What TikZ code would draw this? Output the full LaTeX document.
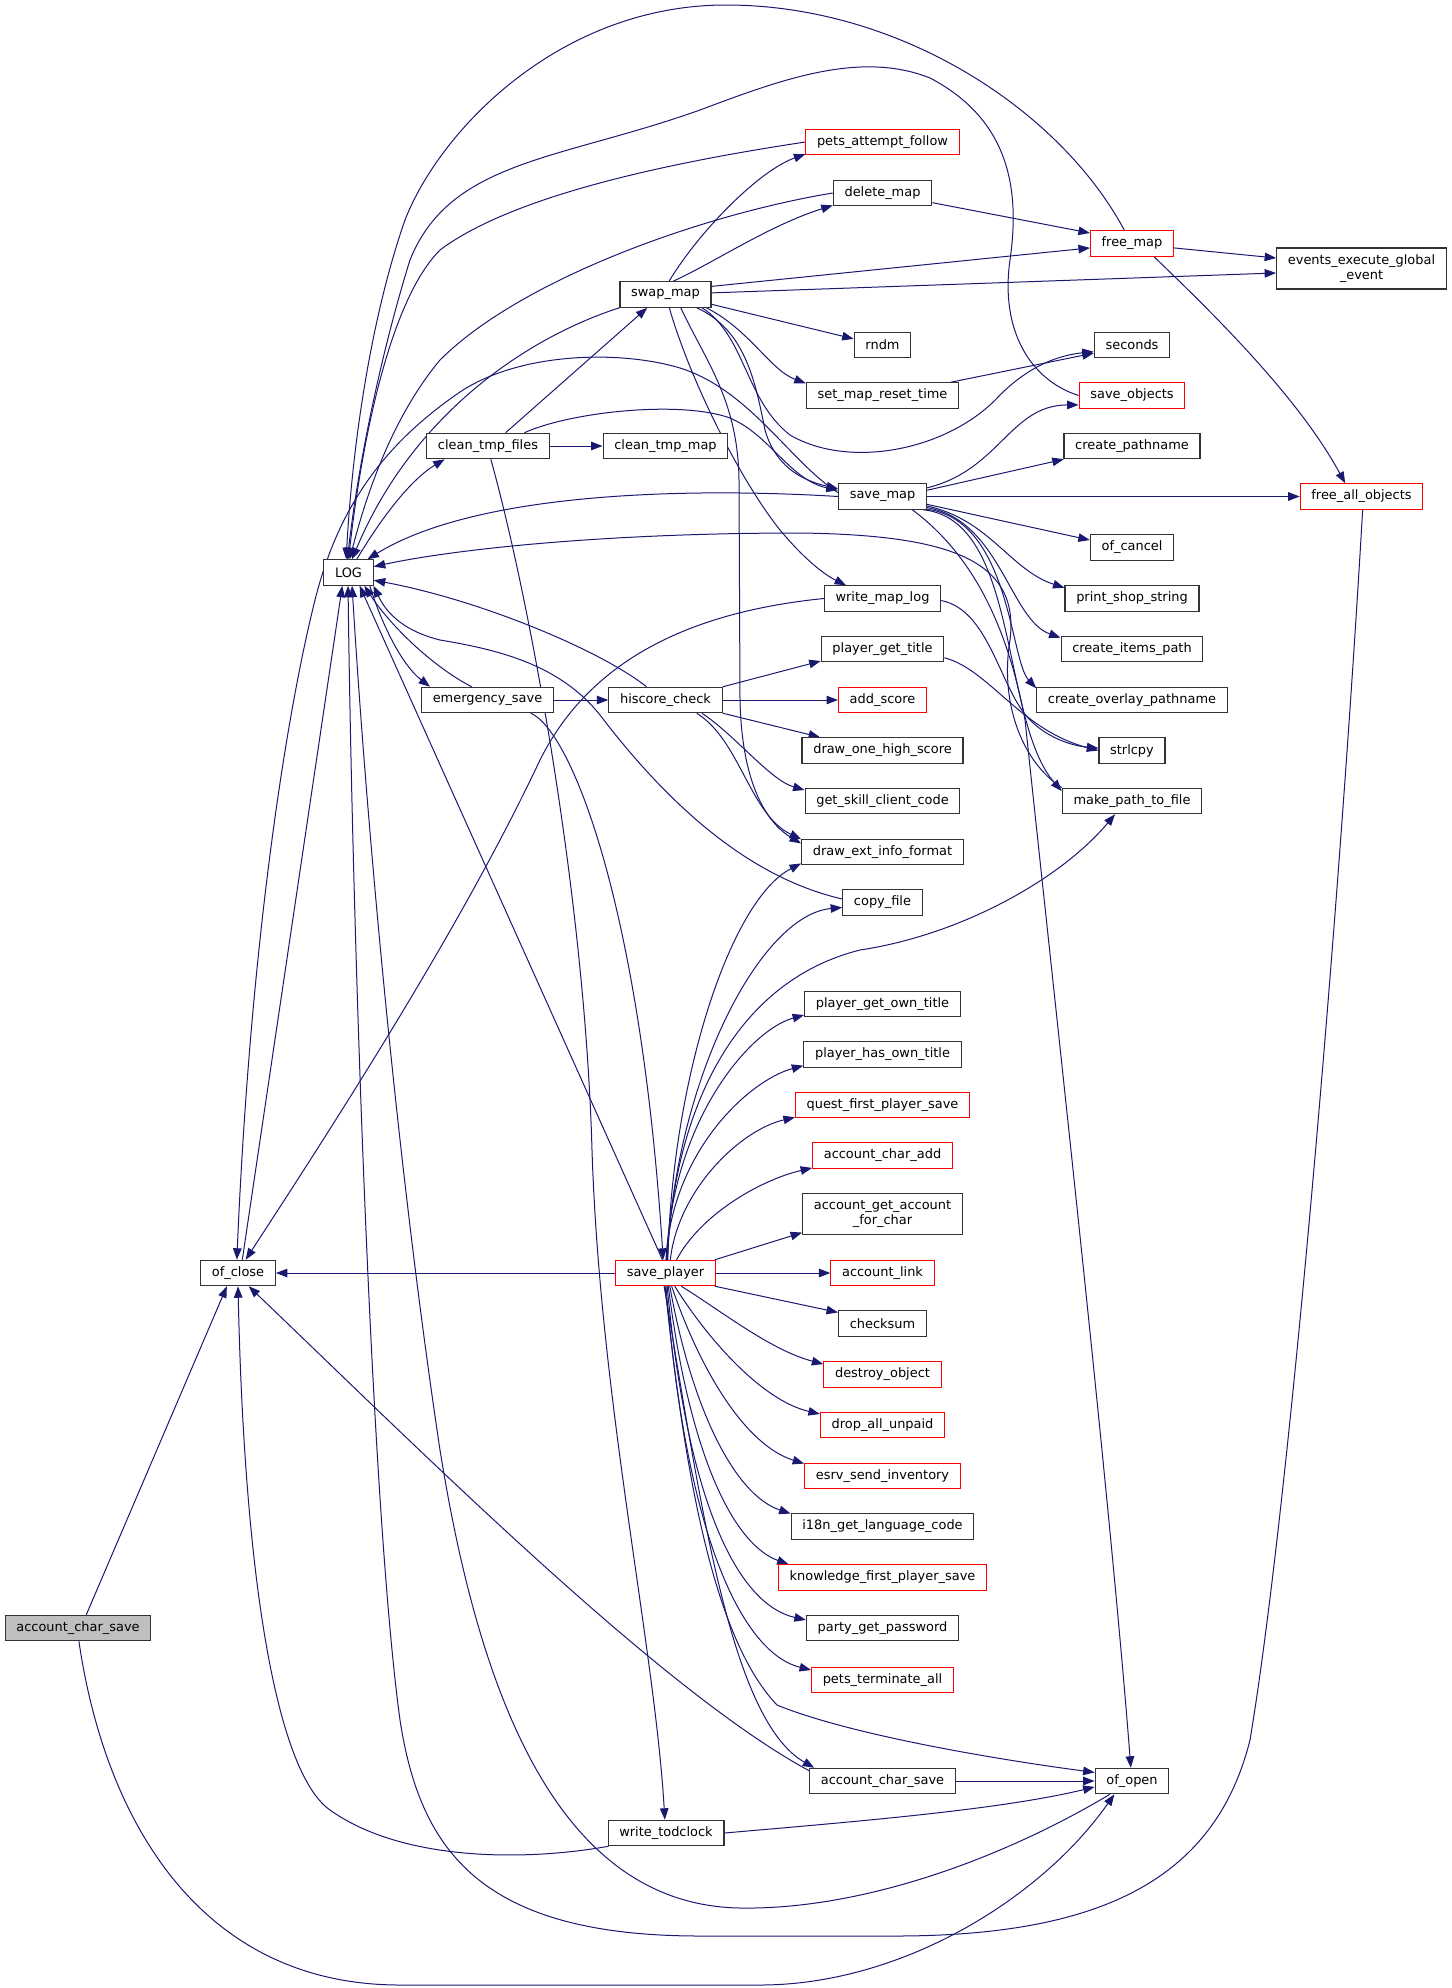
\documentclass[tikz,border=0pt]{standalone}
\usepackage{fontspec}
\setmainfont{DejaVu Sans}
\usetikzlibrary{arrows.meta}
\definecolor{edgeblue}{HTML}{191970}
\definecolor{rootgray}{HTML}{BFBFBF}
\pgfdeclarelayer{background}
\pgfsetlayers{background,main}
\begin{document}
\begin{tikzpicture}[x=0.75pt,y=-0.75pt,
  fn/.style={draw=black!80, line width=0.9pt, fill=white, inner xsep=8.4pt, inner ysep=0pt,
             minimum height=19pt, font=\fontsize{9.7pt}{11.25pt}\selectfont, text=black},
  fnred/.style={fn, draw=red, line width=0.8pt},
  fnroot/.style={fn, fill=rootgray},
  fntwo/.style={fn, align=center, minimum height=30.75pt},
  conn/.style={draw=edgeblue, line width=0.75pt, -{Triangle[length=8.6pt,width=6.4pt]}},
]
\useasboundingbox (0,0) rectangle (1452,1988);

% ---------- nodes ----------
\node[fnroot] (root) at (78,1628) {account\_char\_save};
\node[fn] (ocs) at (238,1273) {of\_close};
\node[fn] (lg) at (348.5,572.5) {LOG};
\node[fn] (ctf) at (488,446) {clean\_tmp\_files};
\node[fn] (ems) at (487.5,700) {emergency\_save};
\node[fn] (swm) at (665.5,294.5) {swap\_map};
\node[fn] (ctm) at (665.5,446) {clean\_tmp\_map};
\node[fn] (hsc) at (665.5,700) {hiscore\_check};
\node[fnred] (spl) at (665.5,1273) {save\_player};
\node[fn] (wtc) at (666,1833) {write\_todclock};

\node[fnred] (paf) at (882.5,142) {pets\_attempt\_follow};
\node[fn] (dlm) at (882.5,193) {delete\_map};
\node[fn] (rnd) at (882.5,345) {rndm};
\node[fn] (smr) at (882.5,395.5) {set\_map\_reset\_time};
\node[fn] (svm) at (882.5,496.5) {save\_map};
\node[fn] (wml) at (882.5,598.5) {write\_map\_log};
\node[fn] (pgt) at (882.5,649) {player\_get\_title};
\node[fnred] (ads) at (882.5,700) {add\_score};
\node[fn] (dhs) at (882.5,750.5) {draw\_one\_high\_score};
\node[fn] (gsc) at (882.5,801) {get\_skill\_client\_code};
\node[fn] (dei) at (882.5,852) {draw\_ext\_info\_format};
\node[fn] (cpf) at (882.5,902.5) {copy\_file};
\node[fn] (pgo) at (882.5,1004) {player\_get\_own\_title};
\node[fn] (pho) at (882.5,1054.5) {player\_has\_own\_title};
\node[fnred] (qfp) at (882.5,1105) {quest\_first\_player\_save};
\node[fnred] (aca) at (882.5,1155.5) {account\_char\_add};
\node[fntwo] (aga) at (882.5,1214) {account\_get\_account\\\_for\_char};
\node[fnred] (alk) at (882.5,1273) {account\_link};
\node[fn] (cks) at (882.5,1323.5) {checksum};
\node[fnred] (dob) at (882.5,1374.5) {destroy\_object};
\node[fnred] (dau) at (882.5,1425) {drop\_all\_unpaid};
\node[fnred] (esi) at (882.5,1476) {esrv\_send\_inventory};
\node[fn] (i18) at (882.5,1526.5) {i18n\_get\_language\_code};
\node[fnred] (kfp) at (882.5,1577.5) {knowledge\_first\_player\_save};
\node[fn] (pgp) at (882.5,1628) {party\_get\_password};
\node[fnred] (pta) at (882.5,1680) {pets\_terminate\_all};
\node[fn] (acs) at (882.5,1781) {account\_char\_save};

\node[fnred] (frm) at (1132,243.5) {free\_map};
\node[fn] (sec) at (1132,345) {seconds};
\node[fnred] (sob) at (1132,395.5) {save\_objects};
\node[fn] (cpn) at (1132,446) {create\_pathname};
\node[fn] (ocl) at (1132,547.5) {of\_cancel};
\node[fn] (pss) at (1132,598.5) {print\_shop\_string};
\node[fn] (cip) at (1132,649) {create\_items\_path};
\node[fn] (cop) at (1132,700) {create\_overlay\_pathname};
\node[fn] (slc) at (1132,750.5) {strlcpy};
\node[fn] (mpf) at (1132,801) {make\_path\_to\_file};
\node[fn] (oop) at (1132,1781) {of\_open};

\node[fntwo] (eeg) at (1361.5,268.5) {events\_execute\_global\\\_event};
\node[fnred] (fao) at (1361.5,496.5) {free\_all\_objects};

% ---------- connectors ----------
\begin{pgfonlayer}{background}
% root
\draw[conn] (root.58) -- (ocs.230);
\draw[conn] (root.-86) .. controls (105,1820) and (200,1985) .. (400,1985) -- (760,1985) .. controls (900,1985) and (1040,1900) .. (oop.-143);

% into of_close
\draw[conn] (wtc.193) .. controls (520,1862) and (400,1860) .. (330,1810) .. controls (280,1775) and (245,1600) .. (ocs.-90);
\draw[conn] (acs.172) .. controls (660,1690) and (420,1450) .. (ocs.-51);
\draw[conn] (spl.west) -- (ocs.east);
\draw[conn] (wml.west) .. controls (690,612) and (590,660) .. (540,760) .. controls (460,930) and (330,1130) .. (ocs.60);
\draw[conn] (svm.175) .. controls (790,462) and (750,390) .. (680,368) .. controls (620,350) and (520,352) .. (460,392) .. controls (390,440) and (340,500) .. (315,600) .. controls (285,720) and (250,950) .. (ocs.95);

% into LOG
\draw[conn] (ocs.72) -- (lg.-115);
\draw[conn] (fao.-85) .. controls (1340,900) and (1290,1500) .. (1250,1740) .. controls (1215,1880) and (1100,1935) .. (900,1936) -- (700,1936) .. controls (480,1936) and (420,1850) .. (400,1720) .. controls (370,1500) and (352,900) .. (lg.-92);
\draw[conn] (oop.-149) .. controls (1000,1860) and (860,1910) .. (740,1908) .. controls (560,1905) and (480,1700) .. (440,1450) .. controls (395,1150) and (365,800) .. (lg.-75);
\draw[conn] (spl.103) -- (lg.-50);
\draw[conn] (ems.140) .. controls (435,668) and (392,628) .. (lg.-40);
\draw[conn] (cpf.175) .. controls (760,880) and (680,820) .. (600,715) .. controls (560,665) and (500,650) .. (440,640) .. controls (400,630) and (385,610) .. (lg.-28);
\draw[conn] (hsc.145) .. controls (600,650) and (480,600) .. (lg.-17);
\draw[conn] (mpf.north west) .. controls (1020,760) and (1000,700) .. (1010,640) .. controls (1020,560) and (950,535) .. (800,533) .. controls (600,533) and (450,550) .. (lg.13);
\draw[conn] (frm.120) .. controls (1060,110) and (900,5) .. (726,5) .. controls (560,5) and (440,130) .. (405,220) .. controls (370,320) and (352,450) .. (lg.100);
\draw[conn] (sob.west) .. controls (1030,380) and (1000,330) .. (1010,260) .. controls (1020,190) and (1010,120) .. (930,78) .. controls (860,50) and (780,80) .. (700,110) .. controls (560,160) and (450,160) .. (410,260) .. controls (385,340) and (360,450) .. (lg.95);
\draw[conn] (paf.west) .. controls (700,158) and (520,190) .. (440,250) .. controls (390,300) and (362,440) .. (lg.90);
\draw[conn] (dlm.west) .. controls (700,215) and (520,280) .. (440,360) .. controls (390,420) and (365,500) .. (lg.85);
\draw[conn] (swm.south west) .. controls (520,340) and (410,420) .. (lg.75);
\draw[conn] (svm.west) .. controls (700,488) and (480,490) .. (lg.35);

% out of LOG
\draw[conn] (lg.58) .. controls (380,520) and (410,480) .. (ctf.-163);
\draw[conn] (lg.-32) .. controls (382,625) and (402,665) .. (ems.167);

% emergency_save
\draw[conn] (ems.east) -- (hsc.west);
\draw[conn] (ems.-17) .. controls (570,730) and (640,900) .. (spl.100);

% clean_tmp_files
\draw[conn] (ctf.37) -- (swm.-144);
\draw[conn] (ctf.east) -- (ctm.west);
\draw[conn] (ctf.20) .. controls (570,412) and (680,400) .. (730,418) .. controls (770,435) and (790,480) .. (svm.172);
\draw[conn] (ctf.-78) .. controls (530,600) and (585,900) .. (592,1150) .. controls (600,1400) and (655,1650) .. (wtc.95);

% swap_map
\draw[conn] (swm.75) .. controls (700,230) and (760,170) .. (paf.-171);
\draw[conn] (swm.60) .. controls (715,262) and (770,225) .. (dlm.-166);
\draw[conn] (swm.10) -- (frm.186);
\draw[conn] (swm.2) -- (eeg.183);
\draw[conn] (swm.-12) -- (rnd.168);
\draw[conn] (swm.-18) .. controls (750,330) and (770,370) .. (smr.171);
\draw[conn] (swm.-20) .. controls (745,335) and (745,400) .. (790,435) .. controls (850,470) and (950,450) .. (1000,395) .. controls (1030,365) and (1060,355) .. (sec.190);
\draw[conn] (swm.-23) .. controls (745,330) and (755,380) .. (765,430) .. controls (775,465) and (800,480) .. (svm.170);
\draw[conn] (swm.-74) .. controls (690,380) and (740,480) .. (780,530) .. controls (805,560) and (825,575) .. (wml.160);
\draw[conn] (swm.-41) .. controls (705,360) and (738,400) .. (739,480) -- (740,700) .. controls (742,790) and (770,825) .. (dei.174);

% free_map, delete_map, set_map_reset_time
\draw[conn] (frm.-6) -- (eeg.173);
\draw[conn] (dlm.-11) -- (frm.166);
\draw[conn] (smr.11) -- (sec.192);
\draw[conn] (frm.-31) .. controls (1220,320) and (1300,400) .. (fao.141);

% hiscore_check
\draw[conn] (hsc.13) -- (pgt.-169);
\draw[conn] (hsc.east) -- (ads.west);
\draw[conn] (hsc.-13) -- (dhs.168);
\draw[conn] (hsc.-20) .. controls (735,735) and (770,780) .. (gsc.172);
\draw[conn] (hsc.-23) .. controls (740,740) and (750,815) .. (dei.171);

% save_map
\draw[conn] (svm.11) .. controls (1000,470) and (1010,405) .. (sob.190);
\draw[conn] (svm.8) -- (cpn.-169);
\draw[conn] (svm.east) -- (fao.west);
\draw[conn] (svm.-10) -- (ocl.170);
\draw[conn] (svm.-12) .. controls (990,520) and (1010,570) .. (pss.171);
\draw[conn] (svm.-14) .. controls (1000,520) and (1010,620) .. (cip.171);
\draw[conn] (svm.-16) .. controls (1010,520) and (1010,660) .. (cop.173);
\draw[conn] (svm.-18) .. controls (1020,520) and (1000,720) .. (mpf.172);
\draw[conn] (svm.-24) .. controls (980,560) and (1010,640) .. (1025,720) .. controls (1060,1050) and (1110,1500) .. (oop.95);

% strlcpy
\draw[conn] (wml.-2) .. controls (990,610) and (1000,690) .. (1030,720) .. controls (1050,740) and (1075,746) .. (slc.176);
\draw[conn] (pgt.-8) .. controls (990,670) and (1020,730) .. (slc.180);

% save_player fan
\draw[conn] (spl.80) .. controls (672,1080) and (730,900) .. (dei.-172);
\draw[conn] (spl.82) .. controls (675,1080) and (760,915) .. (cpf.187);
\draw[conn] (spl.84) .. controls (675,1100) and (740,980) .. (860,950) .. controls (960,935) and (1060,880) .. (mpf.-142);
\draw[conn] (spl.86) .. controls (672,1120) and (750,1030) .. (pgo.188);
\draw[conn] (spl.88) .. controls (672,1150) and (750,1080) .. (pho.188);
\draw[conn] (spl.70) .. controls (678,1190) and (740,1130) .. (qfp.188);
\draw[conn] (spl.50) .. controls (700,1215) and (760,1180) .. (aca.190);
\draw[conn] (spl.15) -- (aga.-167);
\draw[conn] (spl.east) -- (alk.west);
\draw[conn] (spl.-15) -- (cks.166);
\draw[conn] (spl.-40) .. controls (720,1310) and (770,1350) .. (dob.170);
\draw[conn] (spl.-55) .. controls (705,1335) and (760,1400) .. (dau.170);
\draw[conn] (spl.-65) .. controls (700,1370) and (745,1445) .. (esi.171);
\draw[conn] (spl.-72) .. controls (692,1410) and (735,1495) .. (i18.172);
\draw[conn] (spl.-78) .. controls (690,1460) and (735,1545) .. (kfp.172);
\draw[conn] (spl.-83) .. controls (688,1510) and (740,1605) .. (pgp.174);
\draw[conn] (spl.-88) .. controls (688,1560) and (750,1655) .. (pta.172);
\draw[conn] (spl.-92) .. controls (685,1480) and (715,1640) .. (777,1705) .. controls (850,1735) and (1000,1760) .. (oop.167);
\draw[conn] (spl.-96) .. controls (700,1500) and (730,1720) .. (acs.169);

% account_char_save (callee) and write_todclock
\draw[conn] (acs.east) -- (oop.west);
\draw[conn] (wtc.east) .. controls (850,1822) and (1000,1810) .. (oop.189);
\end{pgfonlayer}
\end{tikzpicture}
\end{document}
